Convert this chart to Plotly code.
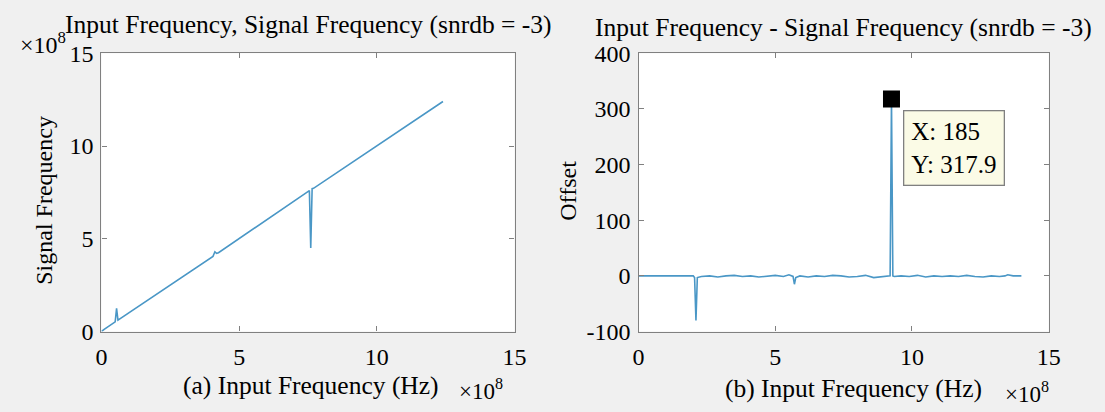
import plotly.graph_objects as go

W, H = 1105, 412

# ---- data (x in units of 1e8 Hz) ----
left_x = [0, 0.1, 0.5, 0.55, 0.6, 4.05, 4.12, 4.18, 4.25, 7.55, 7.6, 7.65, 7.7, 12.4]
left_y = [0, 0.12, 0.52, 1.25, 0.62, 4.05, 4.3, 4.22, 4.25, 7.6, 4.5, 7.7, 7.72, 12.4]

right_x = [0, 2.0, 2.05, 2.1, 2.15, 2.3, 2.6, 2.9, 3.2, 3.5, 3.8, 4.1, 4.4, 4.7, 5.0,
           5.3, 5.5, 5.65, 5.7, 5.75, 5.9, 6.2, 6.5, 6.8, 7.1, 7.4, 7.7, 8.0, 8.3, 8.6,
           8.9, 9.15, 9.2, 9.25, 9.3, 9.35, 9.6, 9.9, 10.2, 10.5, 10.8, 11.1, 11.4,
           11.7, 12.0, 12.3, 12.6, 12.9, 13.2, 13.4, 13.5, 13.7, 14.0]
right_y = [0, 0, -3, -80, -3, -1, 0, -2, 0, 1, -1, 0, -2, 0, 1,
           -1, 2, -1, -15, -3, 0, -2, 0, -1, 1, 0, -2, -1, 1, -3,
           -2, -1, 0, 317.9, 0, -1, 0, -1, 1, -2, 0, -1, 0,
           -1, 1, -1, -2, 0, -1, 0, 2, 0, 0]

tip_x, tip_y, tip_index = 9.25, 317.9, 185

x_ticks = [0, 5, 10, 15]
x_tick_labels = ["0", "5", "10", "15"]
left_y_ticks = [0, 5, 10, 15]
left_y_tick_labels = ["0", "5", "10", "15"]
right_y_ticks = [-100, 0, 100, 200, 300, 400]
right_y_tick_labels = ["-100", "0", "100", "200", "300", "400"]

LINE = "#4a97c6"
FONT = "Liberation Serif"

def px(x):
    return x / W

def py(y):
    return 1 - y / H

fig = go.Figure()
fig.add_trace(go.Scatter(x=left_x, y=left_y, mode="lines",
                         line=dict(color=LINE, width=1.6), xaxis="x", yaxis="y",
                         showlegend=False))
fig.add_trace(go.Scatter(x=right_x, y=right_y, mode="lines",
                         line=dict(color=LINE, width=1.6), xaxis="x2", yaxis="y2",
                         showlegend=False))
fig.add_trace(go.Scatter(x=[tip_x], y=[tip_y], mode="markers",
                         marker=dict(symbol="square", color="black", size=17),
                         xaxis="x2", yaxis="y2", showlegend=False))

axis_common = dict(showgrid=False, zeroline=False, showline=True, linecolor="#808080",
                   linewidth=1.3, mirror="allticks", ticks="inside", ticklen=5,
                   tickcolor="#808080", tickfont=dict(family=FONT, size=24, color="black"))

y_top, y_bot = 43, 340
fig.update_layout(
    width=W, height=H,
    margin=dict(l=0, r=0, t=0, b=0),
    paper_bgcolor="#f0f0f0", plot_bgcolor="white",
    xaxis=dict(domain=[px(97), px(517)], range=[0, 15], tickvals=x_ticks,
               ticktext=x_tick_labels, anchor="y", ticklabelstandoff=4, **axis_common),
    yaxis=dict(domain=[py(y_bot), py(y_top)], range=[0, 15], tickvals=left_y_ticks,
               ticktext=left_y_tick_labels, anchor="x", ticklabelstandoff=2, **axis_common),
    xaxis2=dict(domain=[px(643), px(1060)], range=[0, 15], tickvals=x_ticks,
                ticktext=x_tick_labels, anchor="y2", ticklabelstandoff=4, **axis_common),
    yaxis2=dict(domain=[py(y_bot), py(y_top)], range=[-100, 400], tickvals=right_y_ticks,
                ticktext=right_y_tick_labels, anchor="x2", ticklabelstandoff=2,
                **axis_common),
)

def txt(text, x, y, size=24, angle=0, xanchor="center", yanchor="middle"):
    fig.add_annotation(text=text, x=px(x), y=py(y), xref="paper", yref="paper",
                       showarrow=False, textangle=angle, xanchor=xanchor, yanchor=yanchor,
                       font=dict(family=FONT, size=size, color="black"))

txt("Input Frequency, Signal Frequency (snrdb = -3)", 308, 12, size=25.5)
txt("Input Frequency - Signal Frequency (snrdb = -3)", 851, 16, size=25.5)
txt("×10<sup>8</sup>", 38, 32, size=24)
txt("Signal Frequency", 39, 200, angle=-90)
txt("Offset", 571, 190, angle=-90)
txt("(a) Input Frequency (Hz)", 310, 398, size=25.5)
txt("(b) Input Frequency (Hz)", 862, 401, size=25.5)
txt("×10<sup>8</sup>", 483, 402, size=23)
txt("×10<sup>8</sup>", 1038, 405, size=23)

fig.add_annotation(text=f"X: {tip_index}<br>Y: {tip_y}", x=tip_x, y=tip_y,
                   xref="x2", yref="y2", showarrow=False, xanchor="left",
                   yanchor="top", xshift=12, yshift=-11, align="left",
                   bgcolor="#fbfbe6", bordercolor="#808080",
                   borderwidth=1.3, borderpad=7,
                   font=dict(family=FONT, size=25, color="black"))

fig.write_html("out.html", config={"displayModeBar": False},
               post_script="document.body.style.margin='0px';")
